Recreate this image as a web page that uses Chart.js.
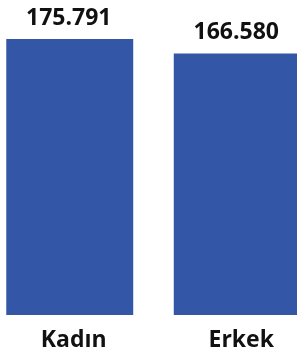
<!DOCTYPE html>
<html><head><meta charset="utf-8">
<script src="https://cdn.jsdelivr.net/npm/chart.js@4"></script>
<style>
html,body{margin:0;padding:0;background:#fff;overflow:hidden;}
#wrap{position:absolute;left:-14px;top:0;width:335px;height:351px;}
</style></head>
<body>
<div id="wrap"><canvas id="c" width="335" height="351"></canvas></div>
<script>
const categories = ["Kadın", "Erkek"];
const values = [175791, 166580];
const valueLabels = ["175.791", "166.580"];

const labelPlugin = {
  id: 'valueLabels',
  afterDatasetsDraw(chart) {
    const ctx = chart.ctx;
    const meta = chart.getDatasetMeta(0);
    ctx.save();
    ctx.font = 'bold 23px "Open Sans"';
    ctx.fillStyle = '#111';
    ctx.textAlign = 'center';
    ctx.textBaseline = 'alphabetic';
    meta.data.forEach((bar, i) => {
      ctx.fillText(valueLabels[i], bar.x - 1, bar.y - 14);
    });
    ctx.restore();
  }
};

new Chart(document.getElementById('c'), {
  type: 'bar',
  data: {
    labels: categories,
    datasets: [{
      data: values,
      backgroundColor: '#3456A7',
      borderWidth: 0,
      barPercentage: 0.758,
      categoryPercentage: 1
    }]
  },
  options: {
    responsive: false,
    animation: false,
    layout: { padding: { top: 39, left: 0, right: 0, bottom: 0 } },
    plugins: { legend: { display: false }, tooltip: { enabled: false } },
    scales: {
      x: {
        grid: { display: false, drawTicks: false },
        border: { display: false },
        ticks: { color: '#111', font: { family: 'Open Sans', size: 23, weight: 'bold' }, padding: 12, labelOffset: 4 },
        afterFit(s) { s.height = 36; }
      },
      y: {
        display: false,
        min: 0,
        max: 175791
      }
    }
  },
  plugins: [labelPlugin]
});
</script>
</body></html>
